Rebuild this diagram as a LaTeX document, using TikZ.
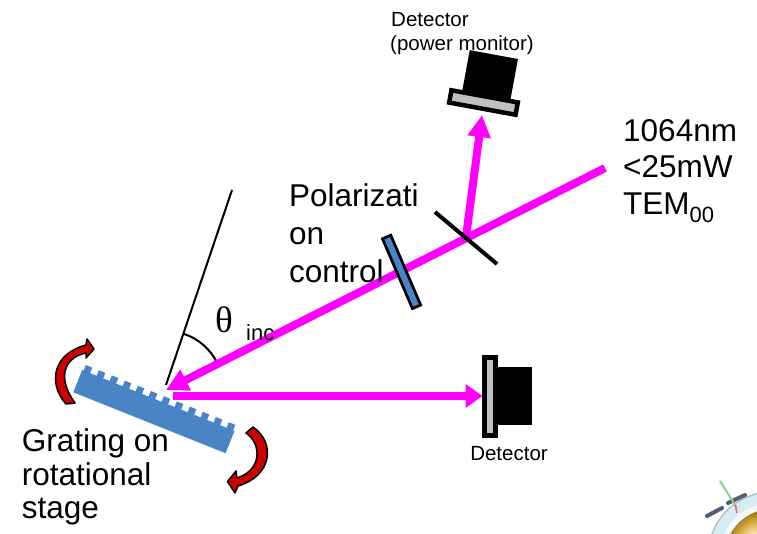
\documentclass[tikz,border=0pt]{standalone}
\usepackage{fontspec}
\setmainfont{Liberation Sans}
\newfontfamily\greekserif{Liberation Serif}
\usetikzlibrary{arrows.meta,calc}

\definecolor{beammag}{RGB}{255,0,255}
\definecolor{optblue}{RGB}{72,132,198}
\definecolor{plategray}{RGB}{192,192,192}
\definecolor{arrowred}{RGB}{204,0,0}
\definecolor{logoring}{RGB}{214,236,242}
\definecolor{logorim}{RGB}{170,185,195}
\definecolor{logogold}{RGB}{215,160,20}
\definecolor{logoslate}{RGB}{80,95,115}
\definecolor{logogreen}{RGB}{140,205,140}

\begin{document}
\begin{tikzpicture}[x=1pt,y=1pt,
  beam/.style={draw=beammag, line width=8pt},
  beamtip/.style={-{Triangle[length=22pt,width=22pt]}},
  bigtext/.style={anchor=base west, inner sep=0pt, font=\fontsize{31.5}{36}\selectfont},
  smalltext/.style={anchor=base west, inner sep=0pt, font=\fontsize{20.5}{24}\selectfont},
  rotarrow/.style={fill=arrowred, draw=black, line width=1.5pt, line join=round},
  waveplate/.style={draw=black, fill=optblue, line width=2.7pt, inner sep=0pt,
    minimum width=76pt, minimum height=9pt, rotate=-66.8},
  detplate/.style={draw=black, fill=plategray},
]
\useasboundingbox (0,0) rectangle (757,-534);
\fill[white] (0,0) rectangle (757,-534);

% key points of the optical path
\coordinate (laser) at (605,-168);
\coordinate (hit) at (166,-390);
\coordinate (vertex) at (166,-388);
\coordinate (split) at (466,-237);
\coordinate (pmtip) at (482,-115);
\coordinate (refl) at (173,-396);
\coordinate (dettip) at (482.5,-396);
\coordinate (split-a) at (435,-212);
\coordinate (split-b) at (497,-264);
\coordinate (normal-top) at (232,-190);
\coordinate (normal-foot) at (166,-385);

% grating with its teeth
\begin{scope}[shift={(73.3,-392.3)}, rotate=-21.8]
  \fill[optblue] (0,0) rectangle (164,24);
  \foreach \k in {0,...,11}
    \fill[optblue] ({1.5+14*\k},23.5) rectangle ({8.5+14*\k},30);
\end{scope}

% grating normal and incidence angle
\draw[line width=2pt] (normal-top) -- (normal-foot);
\draw[line width=2pt] ($(vertex)+(71.6:57)$) arc[start angle=71.6, end angle=26.8, radius=57];

% laser beams
\draw[beam, beamtip] (laser) -- (hit);
\draw[beam, beamtip] (split) -- (pmtip);
\draw[beam, -{Triangle[length=17pt,width=23pt]}] (refl) -- (dettip);

% beam splitter and polarization plate
\draw[line width=4pt] (split-a) -- (split-b);
\node[waveplate] (polplate) at (401.6,-271.9) {};

% power monitor detector
\begin{scope}[shift={(483.5,-102.5)}, rotate=-10.4]
  \fill[black] (-23,8) rectangle (26,49);
  \draw[detplate, line width=4.5pt] (-33.75,-6.25) rectangle (33.75,6.25);
\end{scope}

% diffracted-beam detector
\fill[black] (497,-366.7) rectangle (531.7,-425);
\draw[detplate, line width=5pt] (484.2,-357.5) rectangle (495.8,-435.5);

% rotation arrows of the stage
\filldraw[rotarrow] (66,-404) .. controls (48,-384) and (52,-354) .. (86,-345)
  -- (87,-339) -- (94,-349) -- (86,-358) -- (86,-353)
  .. controls (62,-358) and (58,-380) .. (75,-403) -- cycle;
\filldraw[rotarrow] (253,-427) .. controls (276,-443) and (272,-476) .. (238,-486)
  -- (235,-493) -- (227.5,-481.5) -- (236,-471) -- (237,-478)
  .. controls (262,-470) and (262,-444) .. (246,-433) -- cycle;

% labels
\node[smalltext] (pm1) at (391,-27) {Detector};
\node[smalltext] (pm2) at (390,-51) {(power monitor)};
\node[bigtext] (src1) at (623,-142) {1064nm};
\node[bigtext] (src2) at (623,-178) {<25mW};
\node[bigtext] (src3) at (623,-215) {TEM\raisebox{-8pt}{\fontsize{22}{22}\selectfont 00}};
\node[bigtext] (pol1) at (289,-207) {Polarizati};
\node[bigtext] (pol2) at (289,-245) {on};
\node[bigtext] (pol3) at (289,-283) {control};
\node[anchor=base west, inner sep=0pt, font=\greekserif\fontsize{37}{37}\selectfont] (theta) at (215,-332) {θ};
\node[anchor=base west, inner sep=0pt, font=\fontsize{22}{24}\selectfont] (inc) at (246,-340) {inc};
\node[bigtext] (gr1) at (21.7,-451) {Grating on};
\node[bigtext] (gr2) at (21.7,-485) {rotational};
\node[bigtext] (gr3) at (21.7,-518) {stage};
\node[anchor=base, inner sep=0pt, font=\fontsize{20.5}{24}\selectfont] (det) at (509,-460) {Detector};

% corner emblem
\begin{scope}
  \clip (0,0) rectangle (757,-534);
  \fill[logoring] (772,-556) circle (64);
  \draw[logorim, line width=1.2pt] (772,-556) circle (64);
  \fill[white!70!logoring] (772,-556) circle (53);
  \shade[ball color=logogold] (772,-556) circle (47);
  \draw[logoslate, line width=4pt, line cap=round] (707,-516) -- (722,-508);
  \draw[logoslate, line width=4pt, line cap=round] (728,-503) -- (745,-495);
  \draw[logogreen, line width=2pt] (720,-481) -- (737,-508);
  \draw[red!60, line width=1.5pt] (735,-505) -- (737,-513);
\end{scope}
\end{tikzpicture}
\end{document}
